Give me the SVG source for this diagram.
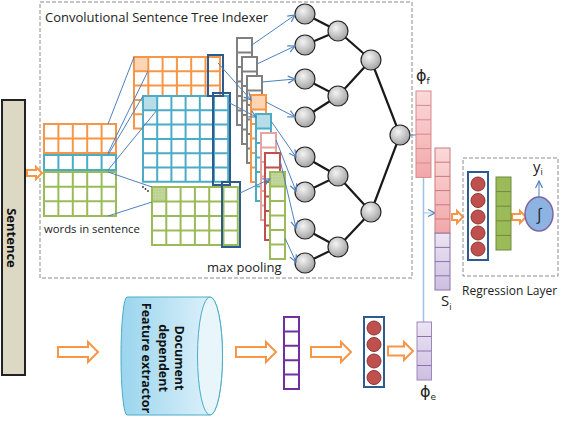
<svg xmlns="http://www.w3.org/2000/svg" width="562" height="448" viewBox="0 0 562 448">
<style>
text{font-family:"Open Sans","Liberation Sans",sans-serif;fill:#222}
.lbl{font-size:13px}
.bold{font-weight:bold;font-size:13px;fill:#111}
.dash{fill:none;stroke:#8c8c8c;stroke-width:1;stroke-dasharray:4 2}
.hol{fill:#fff;stroke:#f79646;stroke-width:2;stroke-linejoin:miter}
.bl{stroke:#4f81bd;stroke-width:1;fill:none}
.ba{stroke:#4f81bd;stroke-width:1;fill:none;marker-end:url(#ah)}
.og{fill:none;stroke:#f79646;stroke-width:2}
.bg{fill:none;stroke:#4bacc6;stroke-width:2}
.gg{fill:none;stroke:#9bbb59;stroke-width:2}
.gy{fill:none;stroke:#808080;stroke-width:2}
.pk{fill:none;stroke:#e6a3a3;stroke-width:2}
.rd{fill:none;stroke:#c0504d;stroke-width:2}
.dk{fill:none;stroke:#2e5b8f;stroke-width:2}
.edge{stroke:#1a1a1a;stroke-width:2.2;fill:none}
.node{fill:url(#ng);stroke:#262626;stroke-width:1.2}
.rc{fill:#c0504d;stroke:#8c3836;stroke-width:1}
.phi{font-family:"DejaVu Sans","Liberation Sans",sans-serif;font-size:16px}
</style>
<defs>
<marker id="ah" markerWidth="9" markerHeight="9" refX="8" refY="4.5" orient="auto" markerUnits="userSpaceOnUse">
<path d="M1,1 L8,4.5 L1,8" fill="none" stroke="#4f81bd" stroke-width="1.2"/>
</marker>
<radialGradient id="ng" cx="0.4" cy="0.35" r="0.7">
<stop offset="0" stop-color="#f4f4f4"/><stop offset="1" stop-color="#9e9e9e"/>
</radialGradient>
<linearGradient id="pkg" x1="0" y1="0" x2="0" y2="1">
<stop offset="0" stop-color="#fbd9da"/><stop offset="1" stop-color="#f2a7aa"/>
</linearGradient>
<linearGradient id="ppg" x1="0" y1="0" x2="0" y2="1">
<stop offset="0" stop-color="#ece5f3"/><stop offset="1" stop-color="#cdbfe0"/>
</linearGradient>
<linearGradient id="cyl" x1="0" y1="0" x2="1" y2="0">
<stop offset="0" stop-color="#9ad5ee"/><stop offset="1" stop-color="#e4f4fb"/>
</linearGradient>
<pattern id="dots" width="3" height="3" patternUnits="userSpaceOnUse">
<rect width="3" height="3" fill="#c3d69b"/><circle cx="1" cy="1" r="0.4" fill="#8aa554"/>
</pattern>
</defs>

<g id="sentence">
<rect x="2" y="100" width="23" height="275" fill="#ddd8c4" stroke="#222" stroke-width="2"/>
<text class="bold" transform="translate(7,238) rotate(90)" text-anchor="middle">Sentence</text>
</g>

<g id="indexer">
<rect class="dash" x="40" y="2" width="372" height="276"/>
<text class="lbl" x="45" y="22">Convolutional Sentence Tree Indexer</text>
</g>

<g id="words">
<path class="og" d="M44,124 H116 V153 H44 Z M44,138.5 H116 M58.4,124 V153 M72.8,124 V153 M87.2,124 V153 M101.6,124 V153"/>
<path class="bg" d="M44,155 H116 V170 H44 Z M58.4,155 V170 M72.8,155 V170 M87.2,155 V170 M101.6,155 V170"/>
<path class="gg" d="M44,172 H116 V216 H44 Z M44,186.7 H116 M44,201.3 H116 M58.4,172 V216 M72.8,172 V216 M87.2,172 V216 M101.6,172 V216"/>
<text x="44" y="233" style="font-size:11.3px">words in sentence</text>
</g>

<g id="featuremaps">
<rect x="134" y="57" width="14.3" height="14.3" fill="#fcd5b4"/>
<path class="og" d="M134,57 H220 V128.5 H134 Z M134,71.3 H220 M134,85.6 H220 M134,99.9 H220 M134,114.2 H220 M148.3,57 V128.5 M162.6,57 V128.5 M176.9,57 V128.5 M191.2,57 V128.5 M205.5,57 V128.5"/>
<rect x="143" y="96" width="85.2" height="85.8" fill="#fff"/>
<rect x="143" y="96" width="14.2" height="14.3" fill="#b7dee8"/>
<path class="bg" d="M143,96 H228.2 V181.8 H143 Z M143,110.3 H228.2 M143,124.6 H228.2 M143,138.9 H228.2 M143,153.2 H228.2 M143,167.5 H228.2 M157.2,96 V181.8 M171.4,96 V181.8 M185.6,96 V181.8 M199.8,96 V181.8 M214,96 V181.8"/>
<rect x="152" y="187" width="14.3" height="14.5" fill="url(#dots)"/>
<path class="gg" d="M152,187 H237.8 V245 H152 Z M152,201.5 H237.8 M152,216 H237.8 M152,230.5 H237.8 M166.3,187 V245 M180.6,187 V245 M194.9,187 V245 M209.2,187 V245 M223.5,187 V245"/>
<rect class="dk" x="208" y="55" width="15" height="41"/>
<rect class="dk" x="213" y="93" width="17" height="92"/>
<rect class="dk" x="222" y="182" width="18" height="65"/>
<circle cx="143" cy="187" r="0.9" fill="#333"/><circle cx="145.5" cy="189" r="0.9" fill="#333"/><circle cx="148" cy="191" r="0.9" fill="#333"/>
</g>

<g id="pooling">
<rect x="237" y="38" width="15" height="87" fill="#fff"/>
<path class="gy" d="M237,38 h15 v87 h-15 Z M237,52.5 h15 M237,67 h15 M237,81.5 h15 M237,96 h15 M237,110.5 h15"/>
<rect x="242" y="57" width="15" height="87" fill="#fff"/>
<path class="gy" d="M242,57 h15 v87 h-15 Z M242,71.5 h15 M242,86 h15 M242,100.5 h15 M242,115 h15 M242,129.5 h15"/>
<rect x="247" y="76" width="15" height="87" fill="#fff"/>
<path class="gy" d="M247,76 h15 v87 h-15 Z M247,90.5 h15 M247,105 h15 M247,119.5 h15 M247,134 h15 M247,148.5 h15"/>
<rect x="251" y="95" width="15" height="87" fill="#fff"/>
<rect x="251" y="95" width="15" height="14.5" fill="#fcd5b4"/>
<path class="og" d="M251,95 h15 v87 h-15 Z M251,109.5 h15 M251,124 h15 M251,138.5 h15 M251,153 h15 M251,167.5 h15"/>
<rect x="256" y="114" width="15" height="87" fill="#fff"/>
<rect x="256" y="114" width="15" height="14.5" fill="#b7dee8"/>
<path class="bg" d="M256,114 h15 v87 h-15 Z M256,128.5 h15 M256,143 h15 M256,157.5 h15 M256,172 h15 M256,186.5 h15"/>
<rect x="261" y="133" width="15" height="87" fill="#fff"/>
<path class="pk" d="M261,133 h15 v87 h-15 Z M261,147.5 h15 M261,162 h15 M261,176.5 h15 M261,191 h15 M261,205.5 h15"/>
<rect x="265" y="153" width="15" height="87" fill="#fff"/>
<path class="rd" d="M265,153 h15 v87 h-15 Z M265,167.5 h15 M265,182 h15 M265,196.5 h15 M265,211 h15 M265,225.5 h15"/>
<rect x="270" y="172" width="15" height="87" fill="#fff"/>
<rect x="270" y="172" width="15" height="14.5" fill="url(#dots)"/>
<path class="gg" d="M270,172 h15 v87 h-15 Z M270,186.5 h15 M270,201 h15 M270,215.5 h15 M270,230 h15 M270,244.5 h15"/>
<text class="lbl" x="207" y="272">max pooling</text>
</g>

<g id="tree-edges">
<path class="edge" d="M305,14 L338,31 L305,45 M305,79 L338,96 L305,117 M305,157 L338,176 L305,192 M305,229 L338,247 L305,263 M338,31 L371,60 L338,96 M338,176 L371,212 L338,247 M371,60 L400,135 L371,212"/>
</g>
<g id="tree-nodes">
<circle class="node" cx="305" cy="14" r="10"/><circle class="node" cx="305" cy="45" r="10"/>
<circle class="node" cx="305" cy="79" r="10"/><circle class="node" cx="305" cy="117" r="10"/>
<circle class="node" cx="305" cy="157" r="10"/><circle class="node" cx="305" cy="192" r="10"/>
<circle class="node" cx="305" cy="229" r="10"/><circle class="node" cx="305" cy="263" r="10"/>
<circle class="node" cx="338" cy="31" r="10"/><circle class="node" cx="338" cy="96" r="10"/>
<circle class="node" cx="338" cy="176" r="10"/><circle class="node" cx="338" cy="247" r="10"/>
<circle class="node" cx="371" cy="60" r="10"/><circle class="node" cx="371" cy="212" r="10"/>
<circle class="node" cx="400" cy="135" r="10"/>
</g>

<g id="connectors">
<path class="bl" d="M108,124 L134,57 M108,153 L148,71 M108,155 L143,96 M108,170 L157,110 M108,172 L152,187 M108,216 L152,202"/>
<path class="ba" d="M218,63 L251,100"/>
<path class="ba" d="M228,102 L256,117"/>
<path class="ba" d="M240,193 L270,179"/>
<path class="ba" d="M252,45 L295,15"/>
<path class="ba" d="M257,64 L295,46"/>
<path class="ba" d="M262,82 L295,79"/>
<path class="ba" d="M266,102 L295,117"/>
<path class="ba" d="M271,121 L296,157"/>
<path class="ba" d="M276,140 L296,191"/>
<path class="ba" d="M280,160 L296,228"/>
<path class="ba" d="M285,238 L296,262"/>
<path class="ba" d="M410,135 L425,135"/>
<path d="M423.5,177 V322" stroke="#9dc3e6" stroke-width="1.5" fill="none"/>
<path class="ba" d="M423.5,213 L435,213" style="stroke:#9dc3e6"/>
<path class="ba" d="M539,197 L539,181"/>
<path class="hol" d="M27,170 H36 V167 L42,173 L36,179 V176 H27 Z"/>
<path class="hol" d="M452,214 H457 V211 L463,217 L457,223 V220 H452 Z"/>
<path class="hol" d="M512,214 H520 V211 L526,217 L520,223 V220 H512 Z"/>
<path class="hol" d="M58,347 H88 V342 L98,352 L88,362 V357 H58 Z"/>
<path class="hol" d="M236,347 H266 V342 L276,352 L266,362 V357 H236 Z"/>
<path class="hol" d="M311,347 H341 V342 L351,352 L341,362 V357 H311 Z"/>
<path class="hol" d="M388,346.5 H404 V342 L413,351 L404,360 V355.5 H388 Z"/>
</g>

<g id="phi-f">
<rect x="416" y="91" width="15" height="86.4" fill="url(#pkg)" stroke="#d9898c" stroke-width="1"/>
<path d="M416,105.4 h15 M416,119.8 h15 M416,134.2 h15 M416,148.6 h15 M416,163 h15" stroke="#d9898c" stroke-width="1"/>
<text class="phi" x="416" y="81">ϕ<tspan style="font-size:9px" dy="3">f</tspan></text>
</g>

<g id="s-i">
<rect x="435" y="148" width="15" height="85.2" fill="url(#pkg)" stroke="#c97a7c" stroke-width="1"/>
<rect x="435" y="233.2" width="15" height="56.8" fill="url(#ppg)" stroke="#8c72ad" stroke-width="1"/>
<path d="M435,162.2 h15 M435,176.4 h15 M435,190.6 h15 M435,204.8 h15 M435,219 h15" stroke="#c97a7c" stroke-width="1"/>
<path d="M435,247.4 h15 M435,261.6 h15 M435,275.8 h15" stroke="#8c72ad" stroke-width="1"/>
<text x="441" y="306" style="font-size:15px">S<tspan style="font-size:9px" dy="4">i</tspan></text>
</g>

<g id="phi-e">
<rect x="417" y="322" width="14.5" height="58" fill="url(#ppg)" stroke="#9f87bd" stroke-width="1"/>
<path d="M417,336.5 h14.5 M417,351 h14.5 M417,365.5 h14.5" stroke="#8c72ad" stroke-width="1"/>
<text class="phi" x="420" y="397">ϕ<tspan style="font-size:9px" dy="3">e</tspan></text>
</g>

<g id="regression">
<rect class="dash" x="463" y="158" width="95" height="118"/>
<rect class="dk" x="468" y="172" width="20" height="88" fill="#fff"/>
<circle class="rc" cx="478" cy="184" r="7"/><circle class="rc" cx="478" cy="200.5" r="7"/>
<circle class="rc" cx="478" cy="217" r="7"/><circle class="rc" cx="478" cy="233" r="7"/>
<circle class="rc" cx="478" cy="249" r="7"/>
<rect x="496" y="177" width="15" height="73" fill="#9bbb59" stroke="#71893f" stroke-width="1"/>
<path d="M496,191.6 h15 M496,206.2 h15 M496,220.8 h15 M496,235.4 h15" stroke="#71893f" stroke-width="1"/>
<ellipse cx="539" cy="214" rx="14" ry="17" fill="#8db3e2" stroke="#8064a2" stroke-width="1.5"/>
<text x="539" y="220" text-anchor="middle" style="font-size:16px">∫</text>
<text x="533" y="172" style="font-size:15px">y<tspan style="font-size:9px" dy="3">i</tspan></text>
<text x="462" y="295" style="font-size:12px">Regression Layer</text>
</g>

<g id="extractor">
<path d="M127,297 L210,297 A12.5,59 0 0 1 210,415 L127,415 A6,59 0 0 1 127,297 Z" fill="url(#cyl)" stroke="#4bacc6" stroke-width="1"/>
<ellipse cx="210" cy="356" rx="12.5" ry="59" fill="#e8f6fc" stroke="#4bacc6" stroke-width="1"/>
<text class="bold" style="font-size:12.5px" transform="translate(175,358) rotate(90)" text-anchor="middle">Document</text>
<text class="bold" style="font-size:12.5px" transform="translate(159,358) rotate(90)" text-anchor="middle">dependent</text>
<text class="bold" style="font-size:12.5px" transform="translate(142,358) rotate(90)" text-anchor="middle">Feature extractor</text>
</g>

<g id="feature-vector">
<rect x="284" y="317" width="15" height="72" fill="#fff" stroke="#7030a0" stroke-width="2"/>
<path d="M284,331.4 h15 M284,345.8 h15 M284,360.2 h15 M284,374.6 h15" stroke="#7030a0" stroke-width="2"/>
</g>

<g id="hidden-vector">
<rect class="dk" x="364" y="317" width="20" height="70" fill="#fff"/>
<circle class="rc" cx="374" cy="328" r="7"/><circle class="rc" cx="374" cy="344.5" r="7"/>
<circle class="rc" cx="374" cy="361" r="7"/><circle class="rc" cx="374" cy="377.5" r="7"/>
</g>
</svg>
